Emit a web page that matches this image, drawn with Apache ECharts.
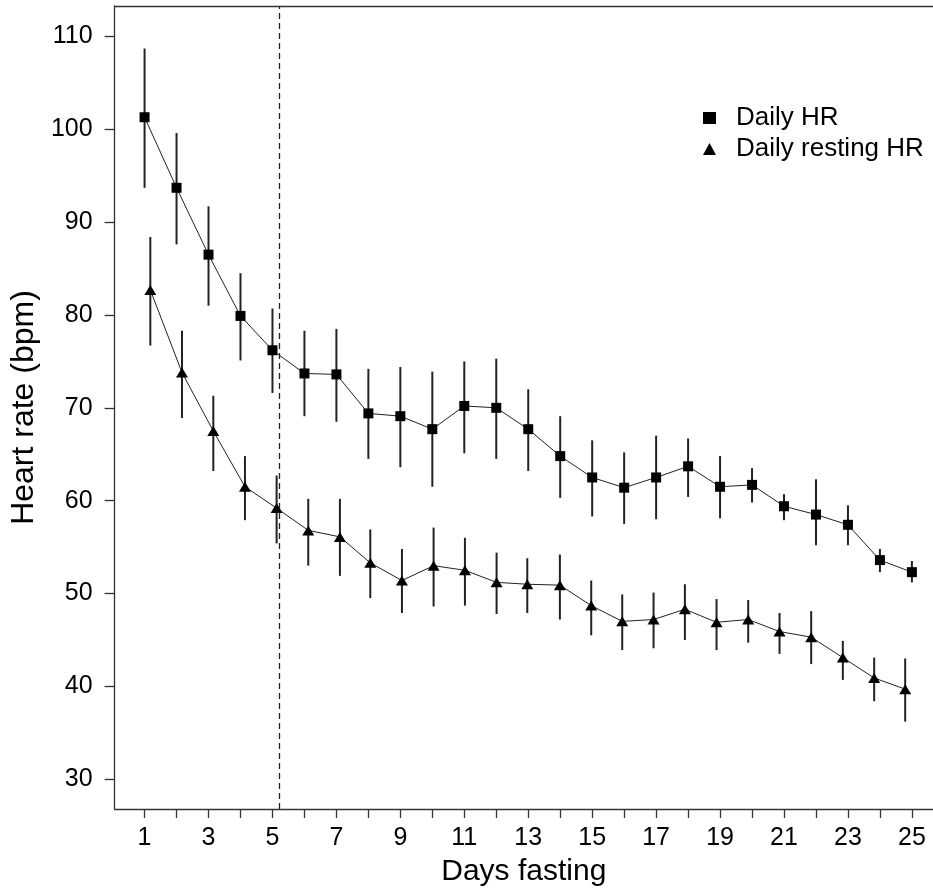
<!DOCTYPE html>
<html>
<head>
<meta charset="utf-8">
<script src="https://cdn.jsdelivr.net/npm/echarts@6/dist/echarts.min.js"></script>
<style>
  html, body { margin: 0; padding: 0; background: #fff; }
  #chart { width: 933px; height: 892px; }
</style>
</head>
<body>
<div id="chart"></div>
<script>
// Daily heart rate (mean with error bars) over 25 days of fasting
const days = [1,2,3,4,5,6,7,8,9,10,11,12,13,14,15,16,17,18,19,20,21,22,23,24,25];
const hrMean  = [101.3, 93.7, 86.5, 79.9, 76.2, 73.7, 73.6, 69.4, 69.1, 67.7, 70.2, 70.0, 67.7, 64.8, 62.5, 61.4, 62.5, 63.7, 61.5, 61.7, 59.4, 58.5, 57.4, 53.6, 52.3];
const hrUpper = [108.7, 99.6, 91.7, 84.5, 80.7, 78.3, 78.5, 74.2, 74.4, 73.9, 75.0, 75.3, 72.0, 69.1, 66.5, 65.2, 67.0, 66.7, 64.8, 63.5, 60.7, 62.3, 59.5, 54.8, 53.5];
const hrLower = [93.7, 87.6, 81.0, 75.1, 71.6, 69.1, 68.5, 64.5, 63.6, 61.5, 65.1, 64.5, 63.2, 60.3, 58.3, 57.5, 58.0, 60.4, 58.1, 59.8, 57.9, 55.2, 55.2, 52.3, 51.2];

// Resting heart rate, plotted at slightly shifted day positions
const restDays  = [1.18, 2.17, 3.15, 4.14, 5.13, 6.12, 7.11, 8.06, 9.05, 10.04, 11.02, 12.01, 12.97, 13.99, 14.97, 15.94, 16.92, 17.90, 18.89, 19.88, 20.86, 21.85, 22.84, 23.82, 24.79];
const restMean  = [82.7, 73.8, 67.5, 61.5, 59.2, 56.8, 56.1, 53.3, 51.4, 53.0, 52.5, 51.2, 51.0, 50.9, 48.7, 47.0, 47.2, 48.3, 46.9, 47.2, 45.9, 45.3, 43.1, 40.9, 39.7];
const restUpper = [88.4, 78.3, 71.3, 64.8, 62.7, 60.2, 60.2, 56.9, 54.8, 57.1, 56.0, 54.4, 53.8, 54.2, 51.4, 49.9, 50.1, 51.0, 49.4, 49.3, 47.9, 48.1, 44.9, 43.1, 43.0];
const restLower = [76.7, 68.9, 63.2, 57.9, 55.4, 53.0, 51.9, 49.5, 47.9, 48.6, 48.7, 47.8, 47.9, 47.2, 45.5, 43.9, 44.1, 45.0, 43.9, 44.7, 43.5, 42.4, 40.7, 38.4, 36.2];

// Axis ticks and labels
const yTickValues = [30, 40, 50, 60, 70, 80, 90, 100, 110];
const xTickValues = days;
const xLabelValues = [1, 3, 5, 7, 9, 11, 13, 15, 17, 19, 21, 23, 25];

// Marks the end of the early fasting phase
const phaseBoundaryDay = 5.22;

const FONT = '"Liberation Sans", Arial, sans-serif';
const INK = '#000';
const AXIS = '#333';

const hrPoints = days.map((d, i) => [d, hrMean[i]]);
const hrBars = days.map((d, i) => [d, hrLower[i], hrUpper[i]]);
const restPoints = restDays.map((d, i) => [d, restMean[i]]);
const restBars = restDays.map((d, i) => [d, restLower[i], restUpper[i]]);

function errorBar(params, api) {
  const lo = api.coord([api.value(0), api.value(1)]);
  const hi = api.coord([api.value(0), api.value(2)]);
  return {
    type: 'line',
    shape: { x1: lo[0], y1: lo[1], x2: hi[0], y2: hi[1] },
    style: { stroke: '#222', lineWidth: 2 }
  };
}

const chart = echarts.init(document.getElementById('chart'), null, { renderer: 'canvas' });

chart.setOption({
  animation: false,
  backgroundColor: '#fff',
  textStyle: { fontFamily: FONT },
  grid: { left: 113, right: 0, top: 6, bottom: 78, containLabel: false },
  legend: {
    orient: 'vertical',
    left: 698,
    top: 100,
    itemWidth: 13,
    itemHeight: 12,
    itemGap: 5,
    itemStyle: { color: '#000', borderWidth: 0 },
    textStyle: { fontFamily: FONT, fontSize: 26, color: INK, lineHeight: 26, padding: [0, 0, 0, 15] },
    data: [
      { name: 'Daily HR', icon: 'rect' },
      { name: 'Daily resting HR', icon: 'triangle' }
    ]
  },
  xAxis: [{
    type: 'value',
    min: 0.063,
    max: 25.66,
    name: 'Days fasting',
    nameLocation: 'middle',
    nameGap: 48,
    nameTextStyle: { fontFamily: FONT, fontSize: 30, color: INK },
    splitLine: { show: false },
    axisLine: { show: true, onZero: false, lineStyle: { color: AXIS, width: 1.3 } },
    axisTick: { show: true, length: 9, customValues: xTickValues, lineStyle: { color: AXIS, width: 1.3 } },
    axisLabel: { show: true, margin: 17, customValues: xLabelValues, fontFamily: FONT, fontSize: 25, color: INK }
  }, {
    type: 'value',
    position: 'top',
    min: 0.063,
    max: 25.66,
    splitLine: { show: false },
    axisLine: { show: true, onZero: false, lineStyle: { color: AXIS, width: 1.3 } },
    axisTick: { show: false },
    axisLabel: { show: false }
  }],
  yAxis: {
    type: 'value',
    min: 26.79,
    max: 113.28,
    name: 'Heart rate (bpm)',
    nameLocation: 'middle',
    nameGap: 61,
    nameRotate: 90,
    nameTextStyle: { fontFamily: FONT, fontSize: 32, color: INK },
    splitLine: { show: false },
    axisLine: { show: true, onZero: false, lineStyle: { color: AXIS, width: 1.3 } },
    axisTick: { show: true, length: 10, customValues: yTickValues, lineStyle: { color: AXIS, width: 1.3 } },
    axisLabel: { show: true, margin: 22, customValues: yTickValues, fontFamily: FONT, fontSize: 25, color: INK }
  },
  series: [
    {
      name: 'HR error',
      type: 'custom',
      renderItem: errorBar,
      data: hrBars,
      encode: { x: 0, y: [1, 2] },
      z: 1,
      silent: true,
      markLine: {
        silent: true,
        symbol: ['none', 'none'],
        label: { show: false },
        lineStyle: { type: [6, 4], color: '#222', width: 1.3 },
        data: [{ xAxis: phaseBoundaryDay }]
      }
    },
    {
      name: 'Resting error',
      type: 'custom',
      renderItem: errorBar,
      data: restBars,
      encode: { x: 0, y: [1, 2] },
      z: 1,
      silent: true
    },
    {
      name: 'Daily HR',
      type: 'line',
      data: hrPoints,
      symbol: 'rect',
      symbolSize: 10,
      showSymbol: true,
      itemStyle: { color: '#000', borderWidth: 0 },
      lineStyle: { color: '#222', width: 1 },
      z: 3
    },
    {
      name: 'Daily resting HR',
      type: 'line',
      data: restPoints,
      symbol: 'triangle',
      symbolSize: [12, 10],
      showSymbol: true,
      itemStyle: { color: '#000', borderWidth: 0 },
      lineStyle: { color: '#222', width: 1 },
      z: 3
    }
  ]
});
</script>
</body>
</html>
